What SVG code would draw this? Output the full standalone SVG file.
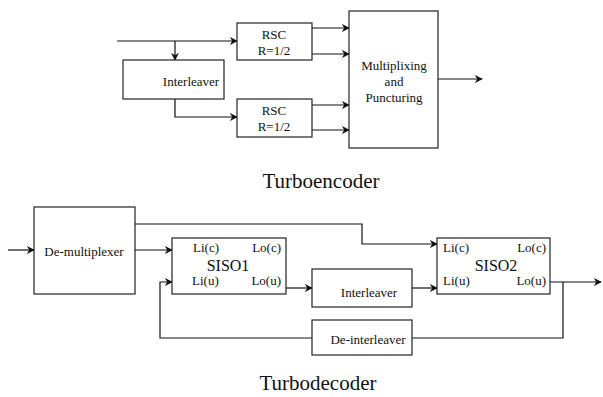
<svg xmlns="http://www.w3.org/2000/svg" width="603" height="397" viewBox="0 0 603 397">
<style>
.box{fill:#fff;stroke:#222;stroke-width:1.2}
.ln{fill:none;stroke:#111;stroke-width:1.2}
text{font-family:"Liberation Serif","Times New Roman",serif;fill:#111}
.t{font-size:13px}
.s{font-size:16px}
.c{font-size:21px}
</style>
<defs>
<marker id="ar" viewBox="0 0 10 10" refX="9" refY="5" markerWidth="8" markerHeight="8" markerUnits="userSpaceOnUse" orient="auto">
<path d="M0,0 L10,5 L0,10 L3,5 Z" fill="#111"/>
</marker>
</defs>
<rect width="603" height="397" fill="#fff"/>
<g id="connectors">
<path class="ln" d="M117,41 H237" marker-end="url(#ar)"/>
<path class="ln" d="M175,41 V60" marker-end="url(#ar)"/>
<path class="ln" d="M175,99 V117 H237" marker-end="url(#ar)"/>
<path class="ln" d="M312,28 H349" marker-end="url(#ar)"/>
<path class="ln" d="M312,54 H349" marker-end="url(#ar)"/>
<path class="ln" d="M312,105 H349" marker-end="url(#ar)"/>
<path class="ln" d="M312,130 H349" marker-end="url(#ar)"/>
<path class="ln" d="M438,79 H482" marker-end="url(#ar)"/>
<path class="ln" d="M8,250 H34" marker-end="url(#ar)"/>
<path class="ln" d="M135,250 H172" marker-end="url(#ar)"/>
<path class="ln" d="M135,224 H362 V244 H437" marker-end="url(#ar)"/>
<path class="ln" d="M286,288 H312" marker-end="url(#ar)"/>
<path class="ln" d="M412,288 H437" marker-end="url(#ar)"/>
<path class="ln" d="M550,282 H601" marker-end="url(#ar)"/>
<path class="ln" d="M563,282 V338 H412"/>
<path class="ln" d="M312,338 H160 V282 H172" marker-end="url(#ar)"/>
</g>
<g id="enc-interleaver">
<rect class="box" x="123" y="60" width="101" height="39"/>
<text class="t" x="191" y="86" text-anchor="middle">Interleaver</text>
</g>
<g id="rsc1">
<rect class="box" x="237" y="23" width="75" height="37"/>
<text class="t" x="274" y="39" text-anchor="middle">RSC</text>
<text class="t" x="274" y="55" text-anchor="middle">R=1/2</text>
</g>
<g id="rsc2">
<rect class="box" x="237" y="99" width="75" height="38"/>
<text class="t" x="274" y="115" text-anchor="middle">RSC</text>
<text class="t" x="274" y="131" text-anchor="middle">R=1/2</text>
</g>
<g id="mux">
<rect class="box" x="349" y="11" width="89" height="137"/>
<text class="t" x="394" y="70" text-anchor="middle">Multiplixing</text>
<text class="t" x="394" y="86" text-anchor="middle">and</text>
<text class="t" x="394" y="102" text-anchor="middle">Puncturing</text>
</g>
<g id="cap-enc">
<text class="c" x="321" y="188" text-anchor="middle">Turboencoder</text>
</g>
<g id="demux">
<rect class="box" x="34" y="207" width="101" height="87"/>
<text class="t" x="84" y="256" text-anchor="middle">De-multiplexer</text>
</g>
<g id="siso1">
<rect class="box" x="172" y="238" width="114" height="56"/>
<text class="t" x="193" y="252">Li(c)</text>
<text class="t" x="281" y="252" text-anchor="end">Lo(c)</text>
<text class="s" x="228" y="271" text-anchor="middle">SISO1</text>
<text class="t" x="192" y="285">Li(u)</text>
<text class="t" x="281" y="285" text-anchor="end">Lo(u)</text>
</g>
<g id="dec-interleaver">
<rect class="box" x="312" y="269" width="100" height="38"/>
<text class="t" x="369" y="297" text-anchor="middle">Interleaver</text>
</g>
<g id="deinterleaver">
<rect class="box" x="312" y="320" width="100" height="35"/>
<text class="t" x="368" y="344" text-anchor="middle">De-interleaver</text>
</g>
<g id="siso2">
<rect class="box" x="437" y="238" width="113" height="56"/>
<text class="t" x="443" y="252">Li(c)</text>
<text class="t" x="546" y="252" text-anchor="end">Lo(c)</text>
<text class="s" x="496" y="271" text-anchor="middle">SISO2</text>
<text class="t" x="443" y="285">Li(u)</text>
<text class="t" x="546" y="285" text-anchor="end">Lo(u)</text>
</g>
<g id="cap-dec">
<text class="c" x="318" y="390" text-anchor="middle">Turbodecoder</text>
</g>
</svg>
